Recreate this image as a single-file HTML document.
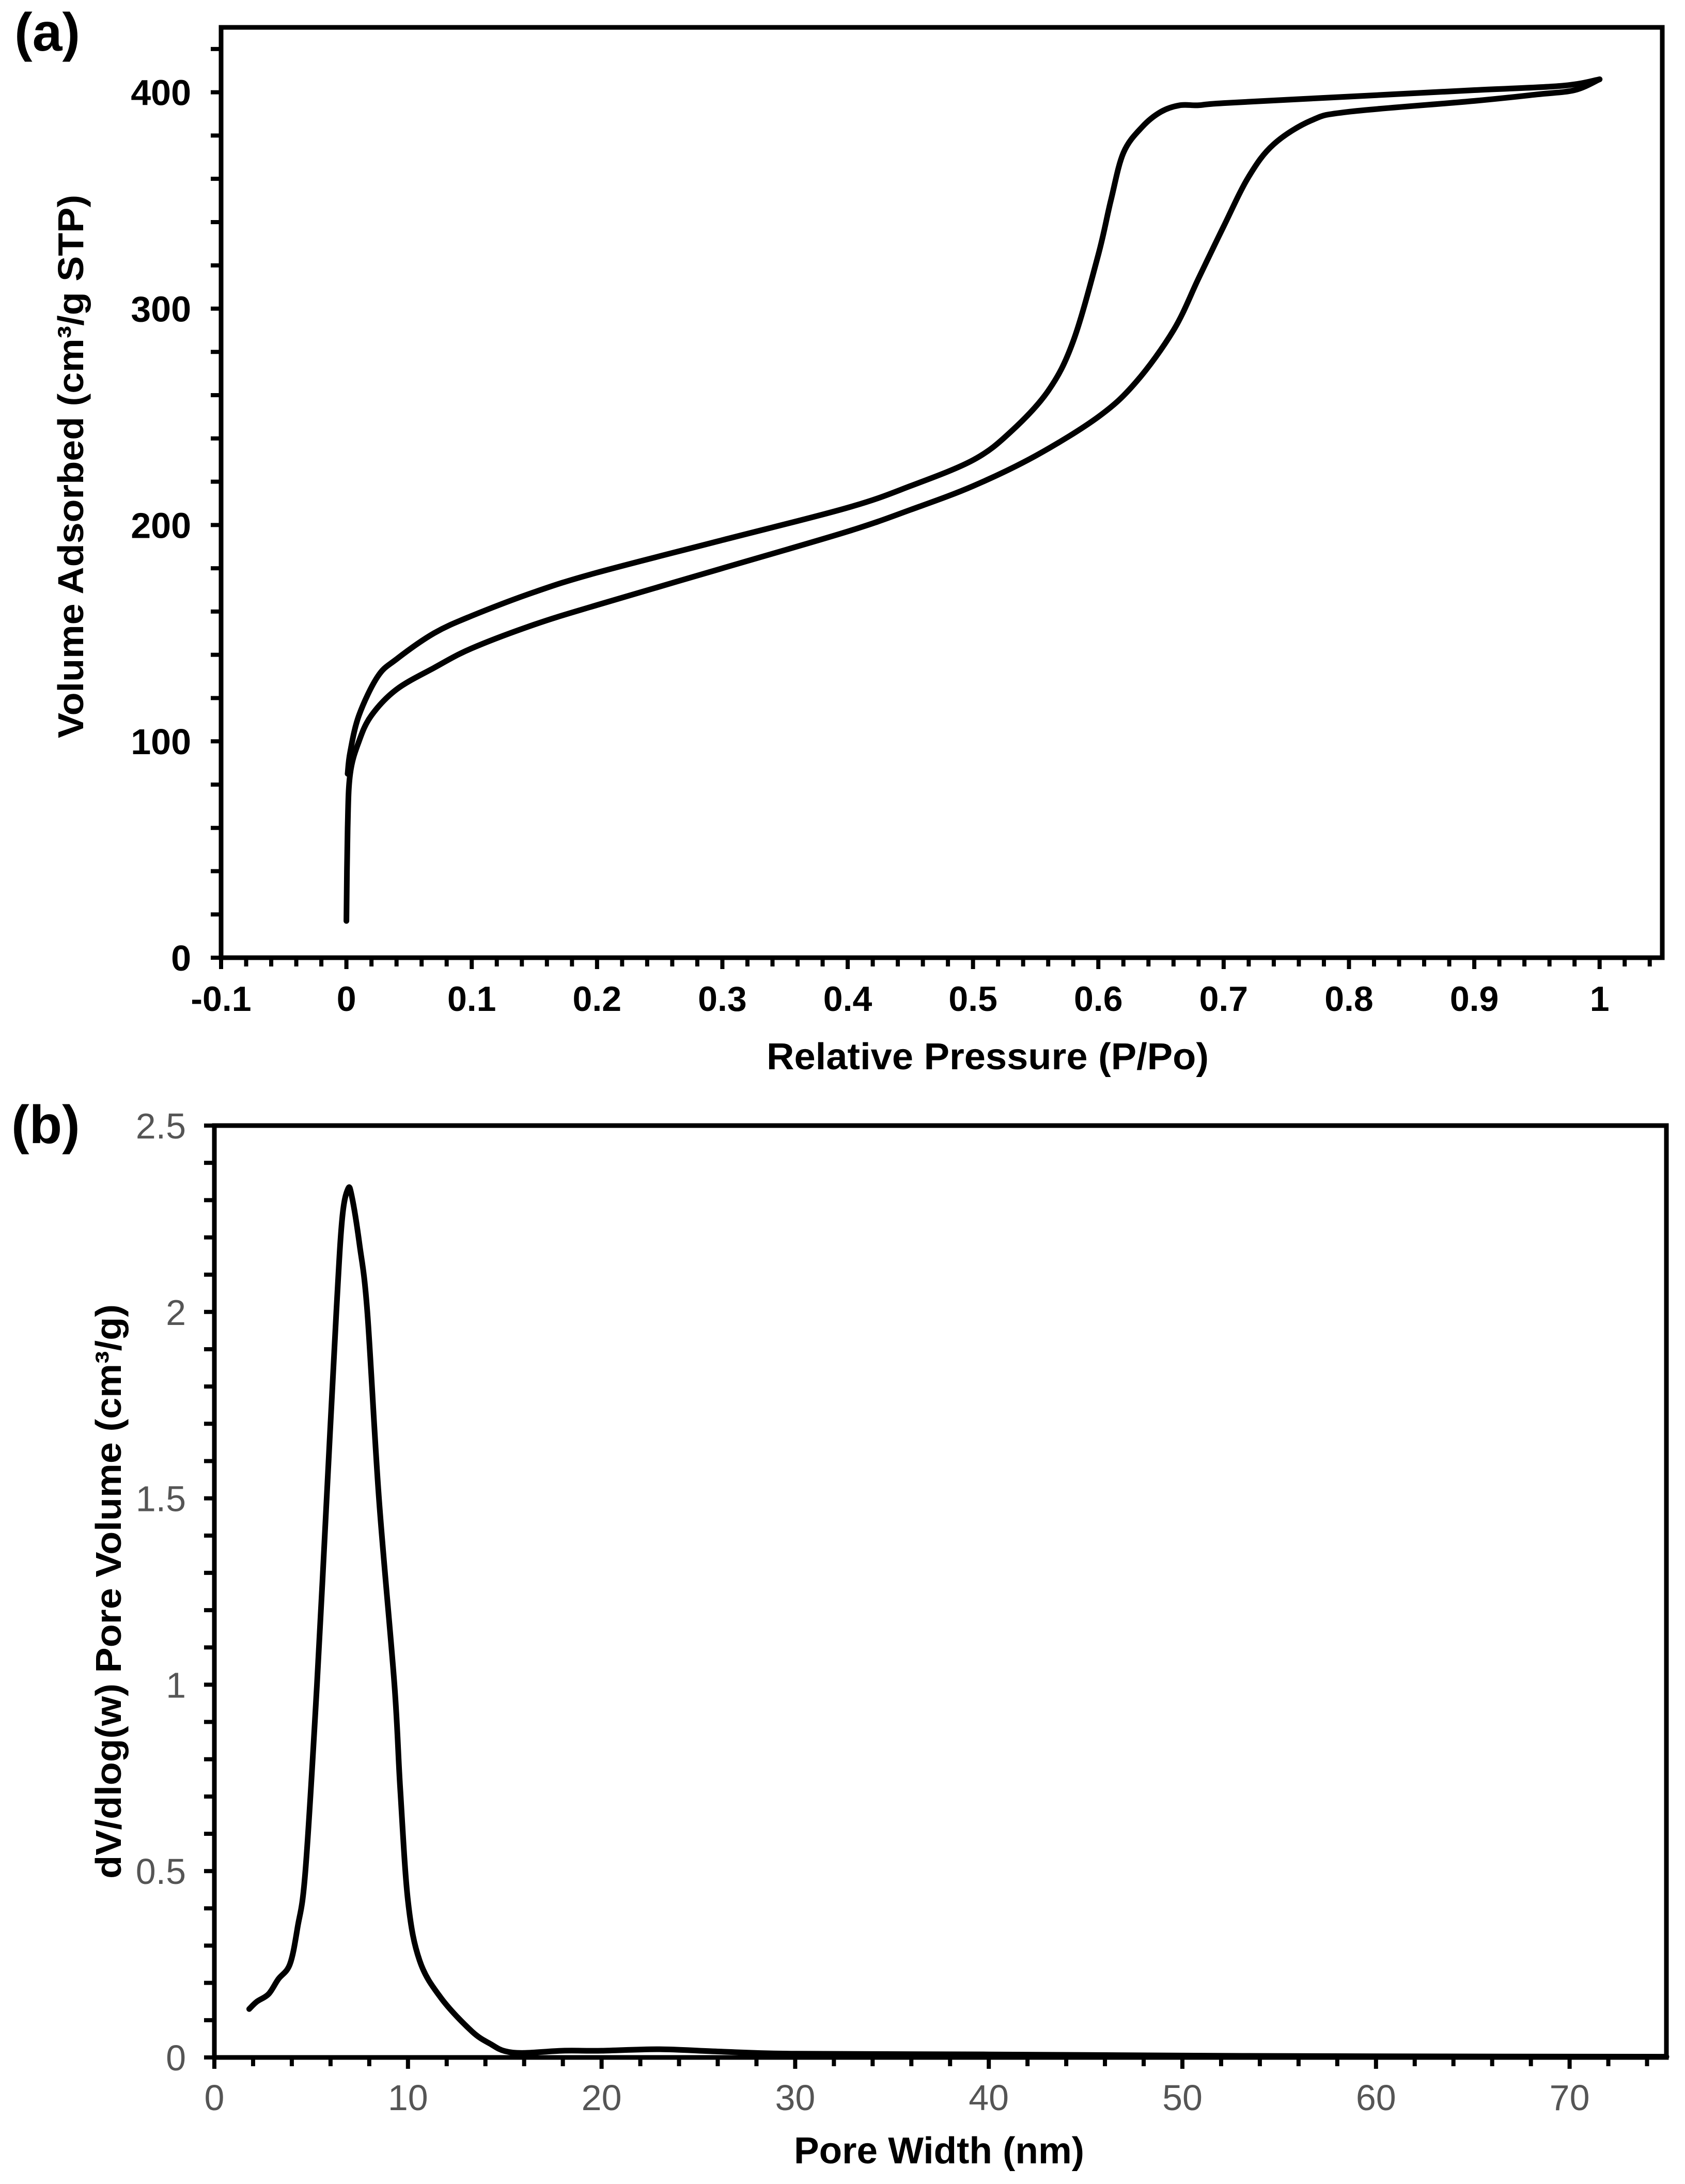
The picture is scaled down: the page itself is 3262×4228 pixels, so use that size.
<!DOCTYPE html>
<html><head><meta charset="utf-8"><style>
html,body{margin:0;padding:0;background:#fff}
svg{display:block}
text{font-family:"Liberation Sans",Arial,sans-serif}
</style></head><body>
<svg id="fig" width="3262" height="4228" viewBox="0 0 3262 4228" xmlns="http://www.w3.org/2000/svg">
<rect width="3262" height="4228" fill="#fff"/>
<g id="chartA"></g>
<g id="chartB"></g>
</svg>
<script>
// ---- Chart (a) data ----
const adsP = [0,0.001,0.003,0.01,0.02,0.04,0.07,0.1,0.15,0.2,0.3,0.4,0.45,0.5,0.55,0.6,0.63,0.66,0.68,0.7,0.72,0.74,0.77,0.8,0.9,0.95,0.98,1.0];
const adsV = [17,60,85,100,112,124,134,143,154,163,180,197,207,218,232,250,266,290,314,338,361,376,387,391,396,399,401,406];
const desP = [1.0,0.97,0.9,0.8,0.7,0.68,0.665,0.65,0.635,0.62,0.61,0.6,0.58,0.56,0.53,0.5,0.45,0.4,0.3,0.2,0.15,0.1,0.07,0.04,0.025,0.01,0.003,0.001];
const desV = [406,403,401,398,395,394,394,391,384,372,350,325,285,262,243,230,218,208,193,178,169,158,150,138,130,112,95,85];
const aXTicks = [-0.1,0,0.1,0.2,0.3,0.4,0.5,0.6,0.7,0.8,0.9,1];
const aXLabels = ["-0.1","0","0.1","0.2","0.3","0.4","0.5","0.6","0.7","0.8","0.9","1"];
const aYTicks = [0,100,200,300,400];
// ---- Chart (b) data ----
const poreW = [1.8,2.2,2.8,3.3,3.9,4.3,4.7,5.3,5.8,6.3,6.6,6.9,7.1,7.5,7.9,8.5,9.3,9.6,10.0,10.6,11.7,13.3,14.3,15,16,18,20,23,26,30,40,50,60,75];
const poreV = [0.13,0.15,0.17,0.21,0.25,0.35,0.5,1.0,1.5,2.0,2.25,2.33,2.31,2.18,2.0,1.5,1.0,0.72,0.42,0.26,0.16,0.07,0.035,0.017,0.012,0.018,0.018,0.022,0.016,0.01,0.008,0.005,0.003,0.002];
const bXTicks = [0,10,20,30,40,50,60,70];
const bYTicks = [0,0.5,1,1.5,2,2.5];
const bYLabels = ["0","0.5","1","1.5","2","2.5"];

const NS="http://www.w3.org/2000/svg";
function mk(parent,tag,attrs,txt){const e=document.createElementNS(NS,tag);for(const k in attrs)e.setAttribute(k,attrs[k]);if(txt!==undefined)e.textContent=txt;parent.appendChild(e);return e;}
function smooth(pts){let d="M"+pts[0][0]+","+pts[0][1];for(let i=0;i<pts.length-1;i++){const p0=pts[Math.max(0,i-1)],p1=pts[i],p2=pts[i+1],p3=pts[Math.min(pts.length-1,i+2)];const c1=[p1[0]+(p2[0]-p0[0])/6,p1[1]+(p2[1]-p0[1])/6],c2=[p2[0]-(p3[0]-p1[0])/6,p2[1]-(p3[1]-p1[1])/6];d+=" C"+c1[0].toFixed(1)+","+c1[1].toFixed(1)+" "+c2[0].toFixed(1)+","+c2[1].toFixed(1)+" "+p2[0].toFixed(1)+","+p2[1].toFixed(1);}return d;}

// ---- Chart (a) ----
(function(){
const g=document.getElementById('chartA');
const L=428,R=3218,T=53,B=1854,xmin=-0.1,xmax=1.05,ymin=0,ymax=430;
const X=v=>L+(v-xmin)/(xmax-xmin)*(R-L);
const Y=v=>B-(v-ymin)/(ymax-ymin)*(B-T);
let t=mk(g,'text',{x:28,y:98,'font-size':104,'font-weight':'bold',fill:'#000'},'(a)');


let fr=mk(g,'rect',{x:L,y:T,width:R-L,height:B-T,fill:'none',stroke:'#000','stroke-width':9});


for(let v=0;v<=ymax;v+=20){const y=Y(v);mk(g,'line',{x1:L-20,x2:L,y1:y,y2:y,stroke:'#000','stroke-width':8});}
for(let i=0;i<aYTicks.length;i++){const e=mk(g,'text',{x:370,y:Y(aYTicks[i])+25,'font-size':70,'font-weight':'bold','text-anchor':'end',fill:'#000'},String(aYTicks[i]));

}
for(let k=0;k<=57;k++){const v=xmin+k*0.02;if(v>xmax+1e-6)break;const x=X(v);const major=(k%5===0);mk(g,'line',{x1:x,x2:x,y1:B,y2:B+(major?22:17),stroke:'#000','stroke-width':8});}
for(let i=0;i<aXTicks.length;i++){const e=mk(g,'text',{x:X(aXTicks[i]),y:1957,'font-size':68,'font-weight':'bold','text-anchor':'middle',fill:'#000'},aXLabels[i]);

}
let xt=mk(g,'text',{x:1912,y:2070,'font-size':72,'font-weight':'bold','text-anchor':'middle',fill:'#000',textLength:856,lengthAdjust:'spacingAndGlyphs'},'Relative Pressure (P/Po)');


let yt=mk(g,'text',{x:0,y:0,'font-size':70,'font-weight':'bold','text-anchor':'middle',fill:'#000',transform:'translate(161,903) rotate(-90)',textLength:1052,lengthAdjust:'spacingAndGlyphs'},'Volume Adsorbed (cm³/g STP)');


const a=mk(g,'path',{d:smooth(adsP.map((p,i)=>[X(p),Y(adsV[i])])),fill:'none',stroke:'#000','stroke-width':11,'stroke-linejoin':'round','stroke-linecap':'round'});


const d=mk(g,'path',{d:smooth(desP.map((p,i)=>[X(p),Y(desV[i])])),fill:'none',stroke:'#000','stroke-width':11,'stroke-linejoin':'round','stroke-linecap':'round'});


})();

// ---- Chart (b) ----
(function(){
const g=document.getElementById('chartB');
const L=415,R=3226,T=2179,B=3983,xmin=0,xmax=75,ymin=0,ymax=2.5;
const X=v=>L+(v-xmin)/(xmax-xmin)*(R-L);
const Y=v=>B-(v-ymin)/(ymax-ymin)*(B-T);
let t=mk(g,'text',{x:22,y:2213,'font-size':104,'font-weight':'bold',fill:'#000'},'(b)');


let fr=mk(g,'rect',{x:L,y:T,width:R-L,height:B-T,fill:'none',stroke:'#000','stroke-width':9});


for(let k=0;k<=25;k++){const y=Y(k*0.1);mk(g,'line',{x1:L-20,x2:L,y1:y,y2:y,stroke:'#000','stroke-width':8});}
for(let i=0;i<bYTicks.length;i++){const e=mk(g,'text',{x:360,y:Y(bYTicks[i])+25,'font-size':70,'text-anchor':'end',fill:'#555'},bYLabels[i]);

}
for(let v=0;v<=74;v+=2){const x=X(v);const major=(v%10===0);mk(g,'line',{x1:x,x2:x,y1:B,y2:B+(major?22:17),stroke:'#000','stroke-width':8});}
for(let i=0;i<bXTicks.length;i++){const e=mk(g,'text',{x:X(bXTicks[i]),y:4085,'font-size':70,'text-anchor':'middle',fill:'#555'},String(bXTicks[i]));

}
let xt=mk(g,'text',{x:1818,y:4188,'font-size':72,'font-weight':'bold','text-anchor':'middle',fill:'#000',textLength:562,lengthAdjust:'spacingAndGlyphs'},'Pore Width (nm)');


let yt=mk(g,'text',{x:0,y:0,'font-size':70,'font-weight':'bold','text-anchor':'middle',fill:'#000',transform:'translate(234,3081) rotate(-90)',textLength:1112,lengthAdjust:'spacingAndGlyphs'},'dV/dlog(w) Pore Volume (cm³/g)');


const c=mk(g,'path',{d:smooth(poreW.map((w,i)=>[X(w),Y(poreV[i])])),fill:'none',stroke:'#000','stroke-width':11,'stroke-linejoin':'round','stroke-linecap':'round'});


})();
</script>
</body></html>
